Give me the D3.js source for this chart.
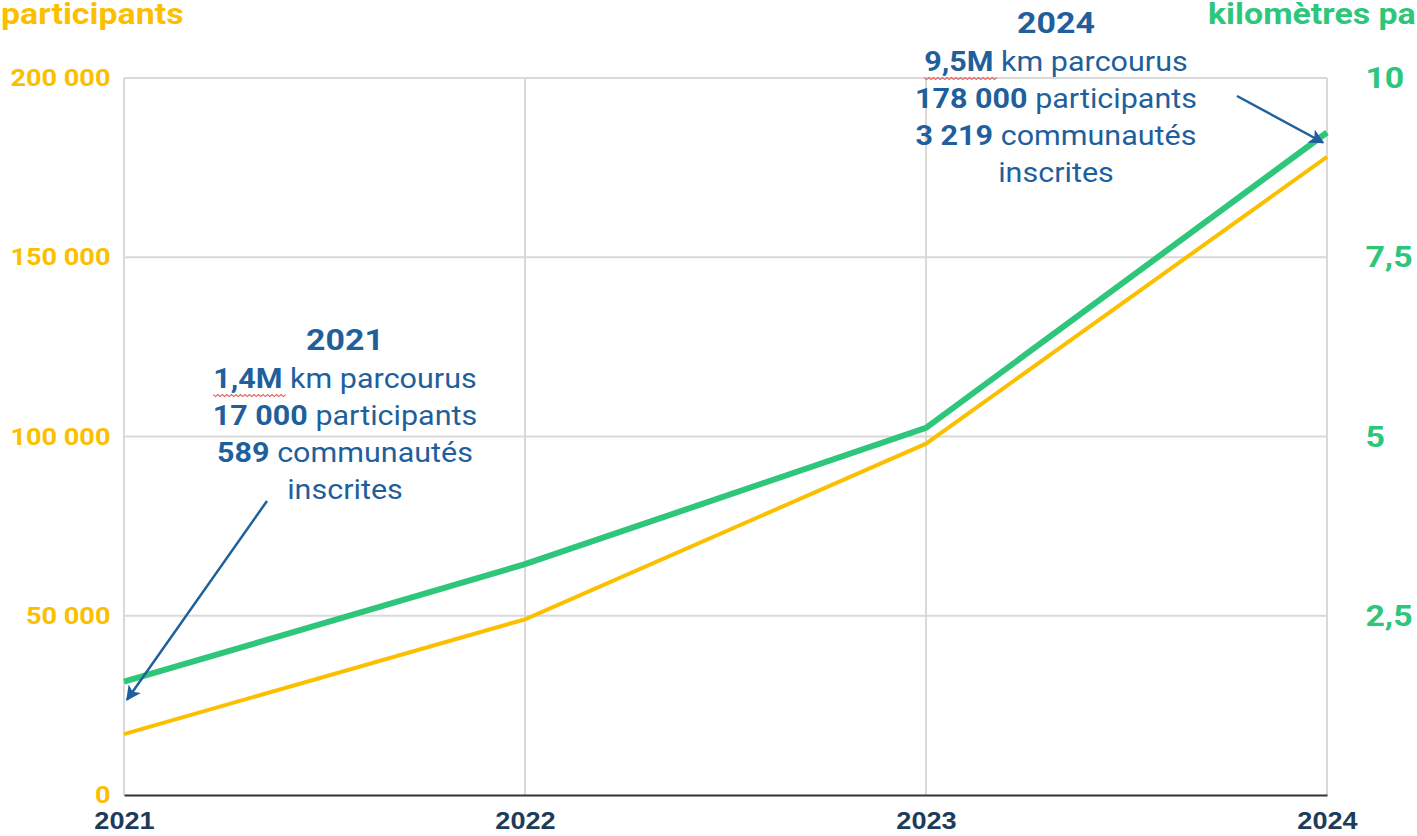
<!DOCTYPE html>
<html>
<head>
<meta charset="utf-8">
<script src="https://cdn.jsdelivr.net/npm/d3@7"></script>
<style>
  body { margin: 0; background: #fff; }
  svg { display: block; font-family: Roboto, "Noto Sans", sans-serif; }
</style>
</head>
<body>
<svg id="chart" width="1417" height="836"></svg>
<script>
// values
const years = ["2021", "2022", "2023", "2024"];
const participants = [17000, 49000, 98000, 178000];
const kmMillions = [1.58, 3.22, 5.12, 9.24];
const leftTicks = [0, 50000, 100000, 150000, 200000];
const rightTicks = [2.5, 5, 7.5, 10];

const notes = [
  { year: "2021", lines: [["1,4M", " km parcourus"], ["17 000", " participants"], ["589", " communautés"], ["", "inscrites"]] },
  { year: "2024", lines: [["9,5M", " km parcourus"], ["178 000", " participants"], ["3 219", " communautés"], ["", "inscrites"]] }
];

const yellow = "#fcbf00";
const green = "#2dc67b";
const blue = "#1f5f9c";
const navy = "#1d3c5a";
const sx = 1.13; // the source text is a bit wider than plain Roboto

const svg = d3.select("#chart");
const margin = { top: 78, right: 90, bottom: 41, left: 124 };
const W = 1417, H = 836;

const x = d3.scalePoint().domain(years).range([margin.left, W - margin.right]);
const yLeft = d3.scaleLinear().domain([0, 200000]).range([H - margin.bottom, margin.top]);
const yRight = d3.scaleLinear().domain([0, 10]).range([H - margin.bottom, margin.top]);

const fmt = d => d3.format(",")(d).replace(/,/g, " ");

// a text group that is stretched a little in x
function wideText(px, py) {
  return svg.append("g").attr("transform", `translate(${px},${py}) scale(${sx},1)`);
}

// grid
svg.append("g")
  .selectAll("line")
  .data(leftTicks.slice(1))
  .join("line")
  .attr("x1", x.range()[0]).attr("x2", x.range()[1])
  .attr("y1", d => yLeft(d)).attr("y2", d => yLeft(d))
  .attr("stroke", "#d9d9d9").attr("stroke-width", 2);

svg.append("g")
  .selectAll("line")
  .data(years)
  .join("line")
  .attr("x1", d => x(d)).attr("x2", d => x(d))
  .attr("y1", yLeft(200000)).attr("y2", yLeft(0))
  .attr("stroke", "#d9d9d9").attr("stroke-width", 2);

// bottom axis
const xAxis = svg.append("g")
  .attr("transform", `translate(0,${yLeft(0)})`)
  .call(d3.axisBottom(x).tickSize(0).tickPadding(17));
xAxis.select(".domain").attr("stroke", "#333").attr("stroke-width", 2);
xAxis.selectAll("text")
  .attr("fill", navy).attr("font-size", 24).attr("font-weight", 700)
  .attr("font-family", "'Liberation Sans', Arial, sans-serif")
  .attr("transform", `scale(${sx},1)`);

// left axis
const lAxis = svg.append("g")
  .attr("transform", `translate(${margin.left},0)`)
  .call(d3.axisLeft(yLeft).tickValues(leftTicks).tickFormat(fmt).tickSize(0).tickPadding(12));
lAxis.select(".domain").remove();
lAxis.selectAll("text")
  .attr("fill", yellow).attr("font-size", 24).attr("font-weight", 700)
  .attr("font-family", "Roboto, sans-serif")
  .attr("transform", `scale(${sx},1)`);

// right axis
const rAxis = svg.append("g")
  .attr("transform", `translate(${W - margin.right},0)`)
  .call(d3.axisRight(yRight).tickValues(rightTicks).tickFormat(d => String(d).replace(".", ",")).tickSize(0).tickPadding(34));
rAxis.select(".domain").remove();
rAxis.selectAll("text")
  .attr("fill", green).attr("font-size", 30).attr("font-weight", 700)
  .attr("font-family", "Roboto, sans-serif")
  .attr("transform", `scale(${sx},1)`);

// axis titles
wideText(1, 24).append("text")
  .attr("fill", yellow).attr("font-size", 30).attr("font-weight", 700)
  .text("participants");
wideText(1208, 24).append("text")
  .attr("fill", green).attr("font-size", 30).attr("font-weight", 700)
  .text("kilomètres parcourus");

// lines
svg.append("path")
  .datum(kmMillions)
  .attr("fill", "none").attr("stroke", green).attr("stroke-width", 6)
  .attr("d", d3.line().x((d, i) => x(years[i])).y(d => yRight(d)));

svg.append("path")
  .datum(participants)
  .attr("fill", "none").attr("stroke", yellow).attr("stroke-width", 4)
  .attr("d", d3.line().x((d, i) => x(years[i])).y(d => yLeft(d)));

// annotations
svg.append("defs").append("marker")
  .attr("id", "arrow")
  .attr("viewBox", "0 0 10 10")
  .attr("refX", 9).attr("refY", 5)
  .attr("markerWidth", 6).attr("markerHeight", 6)
  .attr("orient", "auto")
  .append("path")
  .attr("d", "M0,0 L10,5 L0,10 L2.5,5 Z")
  .attr("fill", blue);

const notePos = { "2021": { cx: 345, top: 350 }, "2024": { cx: 1056, top: 33 } };

notes.forEach(n => {
  const p = notePos[n.year];
  const g = wideText(p.cx, p.top).attr("text-anchor", "middle").attr("fill", blue);
  g.append("text")
    .attr("font-size", 30).attr("font-weight", 700)
    .text(n.year);
  n.lines.forEach((l, i) => {
    const t = g.append("text")
      .attr("y", 38 + i * 37)
      .attr("font-size", 27);
    if (l[0]) t.append("tspan").attr("font-weight", 700).text(l[0]);
    t.append("tspan").text(l[1]);
    if (i === 0) {
      // red spell-check squiggle under the bold number
      const bb = t.select("tspan").node().getBBox();
      let d = `M${bb.x},${bb.y + bb.height}`;
      for (let k = 0; k < bb.width / 4; k++) d += ` l2,2 l2,-2`;
      g.append("path").attr("d", d).attr("fill", "none")
        .attr("stroke", "#e06060").attr("stroke-width", 1);
    }
  });
});

// arrows
svg.append("line")
  .attr("x1", 267).attr("y1", 501)
  .attr("x2", x("2021") + 3).attr("y2", yRight(kmMillions[0]) + 18)
  .attr("stroke", blue).attr("stroke-width", 2.5)
  .attr("marker-end", "url(#arrow)");

svg.append("line")
  .attr("x1", 1237).attr("y1", 96)
  .attr("x2", x("2024") - 4).attr("y2", yRight(kmMillions[3]) + 10)
  .attr("stroke", blue).attr("stroke-width", 2.5)
  .attr("marker-end", "url(#arrow)");
</script>
</body>
</html>
